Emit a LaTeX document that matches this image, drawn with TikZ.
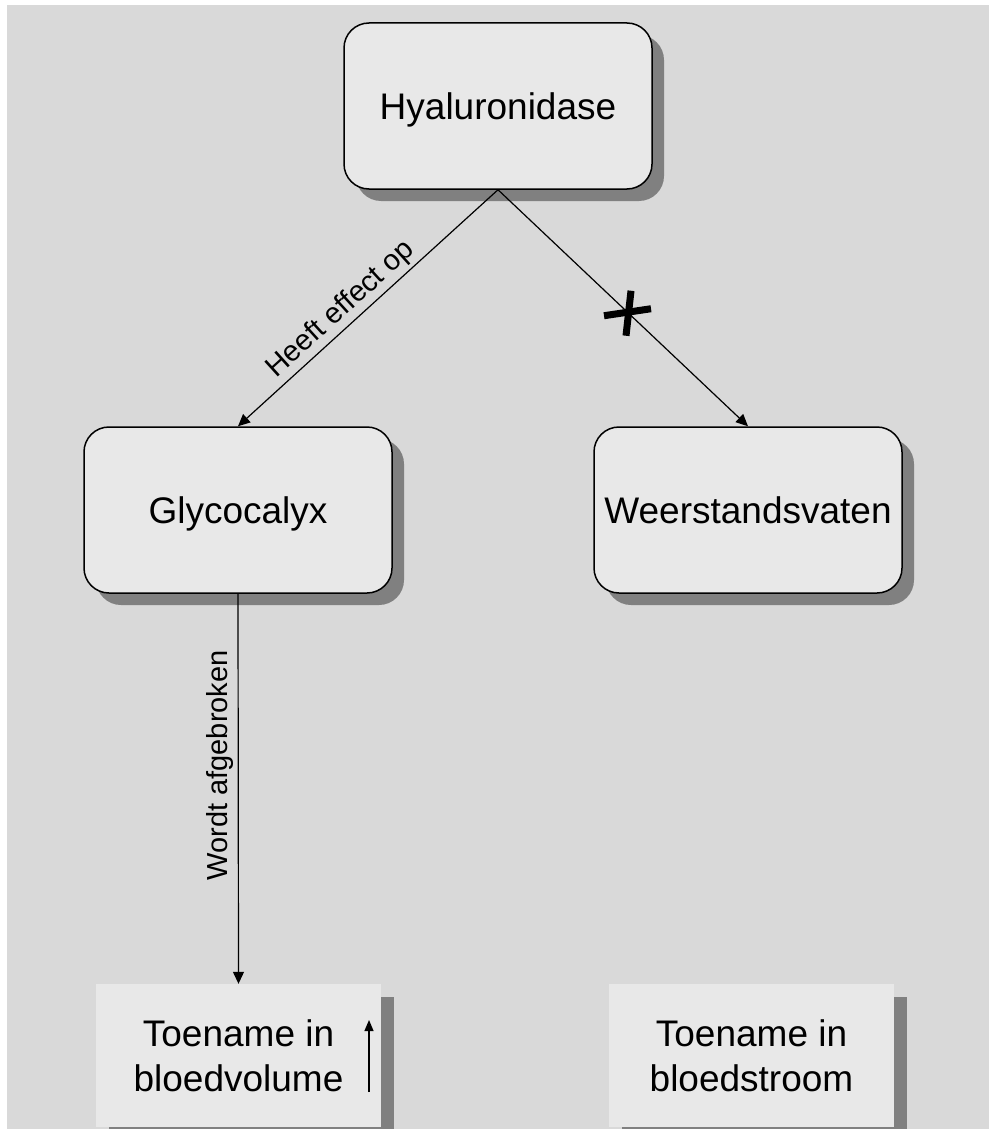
\documentclass[tikz,border=0pt]{standalone}
\usepackage{fontspec}
\setmainfont{Liberation Sans}
\usetikzlibrary{shadows,arrows.meta}
\definecolor{bg}{HTML}{D9D9D9}
\definecolor{boxfill}{HTML}{E8E8E8}
\definecolor{shadowgray}{HTML}{808080}
\tikzset{
  roundbox/.style={draw=black, line width=1.5pt, fill=boxfill, rounded corners=25pt,
    minimum width=308pt, minimum height=166pt, inner sep=0pt,
    font=\fontsize{37}{45}\selectfont, text height=27pt, text depth=0pt,
    drop shadow={shadow xshift=12pt, shadow yshift=-12pt, fill=shadowgray, opacity=1}},
  plainbox/.style={fill=boxfill, minimum width=285pt, minimum height=143pt, inner sep=0pt,
    align=center, font=\fontsize{37}{45}\selectfont,
    drop shadow={shadow xshift=13pt, shadow yshift=-13pt, fill=shadowgray, opacity=1}},
  conn/.style={draw=black, line width=1.2pt, -{Triangle[length=12pt,width=11pt]}},
  lbl/.style={font=\fontsize{29}{34}\selectfont, inner sep=0pt, text depth=0pt},
}
\begin{document}
\begin{tikzpicture}[x=1pt,y=-1pt]
\useasboundingbox (0,0) rectangle (989,1129);
\fill[bg] (7,5) rectangle (989,1129);

\node[roundbox] (hya) at (498,106) {Hyaluronidase};
\node[roundbox] (gly) at (238,510) {Glycocalyx};
\node[roundbox] (weer) at (748,510) {Weerstandsvaten};
\node[plainbox] (t1) at (238.5,1055.5) {Toename in\\bloedvolume};
\node[plainbox] (t2) at (751.5,1055.5) {Toename in\\bloedstroom};

\draw[conn] (hya.south) -- (gly.north)
  node[lbl, sloped, pos=0.56, above=9pt] (l1) {Heeft effect op};
\draw[conn] (hya.south) -- (weer.north) coordinate[pos=0.52] (xm);
\draw[conn] (gly.south) -- (t1.north) coordinate[pos=0.44] (wm);
\node[lbl, rotate=90, anchor=south] (l2) at ([xshift=-11pt]wm) {Wordt afgebroken};

\draw[line width=7pt, shift={(xm)}] (3,-22) -- (-2,23);
\draw[line width=7pt, shift={(xm)}] (-24,3) -- (23,-4);

\coordinate (upA) at ([shift={(130.5,36.5)}]t1.center);
\coordinate (upB) at ([shift={(130.5,-35.5)}]t1.center);
\draw[line width=1.2pt, -{Triangle[length=11pt,width=9pt]}] (upA) -- (upB);
\end{tikzpicture}
\end{document}
